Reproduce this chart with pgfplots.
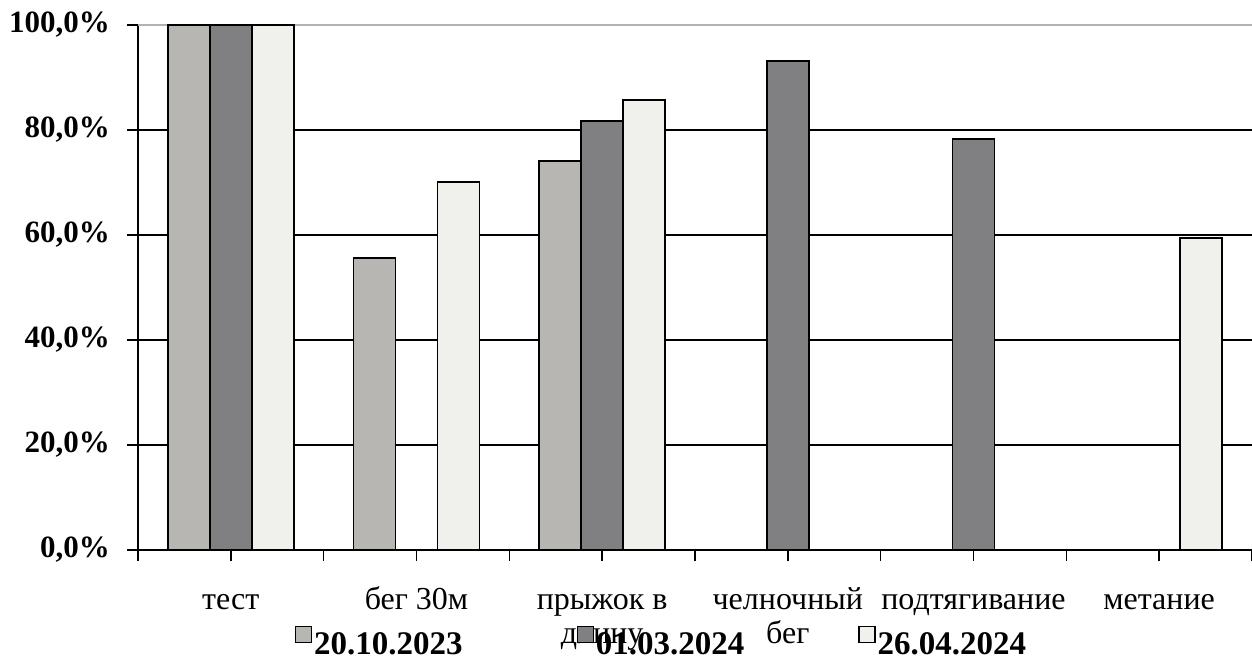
\documentclass[border=0pt]{standalone}
\usepackage{fontspec}
\setmainfont{Liberation Serif}
\usepackage{pgfplots}
\pgfplotsset{compat=1.18}
\definecolor{sA}{RGB}{184,182,178}
\definecolor{sB}{RGB}{128,127,130}
\definecolor{sC}{RGB}{240,240,237}
\begin{document}
\begin{tikzpicture}
\begin{axis}[
  scale only axis, width=1114bp, height=525bp,
  ymin=0, ymax=100, xmin=-0.5, xmax=5.5,
  axis x line*=bottom, axis y line*=left,
  axis line style={line width=2bp, black},
  ybar=0pt, bar width=42bp,
  tick align=outside, major tick length=11bp, minor tick length=11bp,
  tick style={line width=1.6bp, black},
  ytick={0,20,40,60,80},
  yticklabels={0{,}0\%,20{,}0\%,40{,}0\%,60{,}0\%,80{,}0\%},
  extra y ticks={100}, extra y tick labels={100{,}0\%},
  extra y tick style={ymajorgrids=true, major grid style={gray!60, line width=1.4bp}},
  ymajorgrids, major grid style={black, line width=1.8bp},
  yticklabel style={font=\fontsize{31bp}{37bp}\selectfont\bfseries, inner sep=0pt, xshift=-17bp},
  xtick={0,1,2,3,4,5},
  xticklabels={{\strut тест\\\strut}, {\strut бег 30м\\\strut}, {\strut прыжок в\\\strut длину}, {\strut челночный\\\strut бег}, {\strut подтягивание\\\strut}, {\strut метание\\\strut}},
  minor xtick={-0.5,0.5,1.5,2.5,3.5,4.5,5.5},
  xticklabel style={font=\fontsize{32bp}{34bp}\selectfont, align=center, anchor=north, inner sep=0pt, yshift=-24bp},
  legend style={at={(0.47,-0.175)}, anchor=center, draw=none, fill=none, legend columns=3,
    font=\fontsize{33bp}{38bp}\selectfont\bfseries,
    /tikz/every even column/.append style={column sep=112bp}, nodes={inner sep=2bp}},
  legend image code/.code={\draw[#1,line width=1.2bp,draw=black] (0bp,2bp) rectangle (16bp,18bp);},
]
\addplot[fill=sA, draw=black, line width=1.6bp] coordinates {(0,100) (1,55.6) (2,74.1)};
\addplot[fill=sB, draw=black, line width=1.6bp] coordinates {(0,100) (2,81.7) (3,93.1) (4,78.3)};
\addplot[fill=sC, draw=black, line width=1.6bp] coordinates {(0,100) (1,70.1) (2,85.7) (5,59.4)};
\legend{20.10.2023, 01.03.2024, 26.04.2024}
\end{axis}
\pgfresetboundingbox
\path (current axis.south west) ++(-138bp,-115bp) rectangle ++(1252bp,665bp);
\end{tikzpicture}
\end{document}
